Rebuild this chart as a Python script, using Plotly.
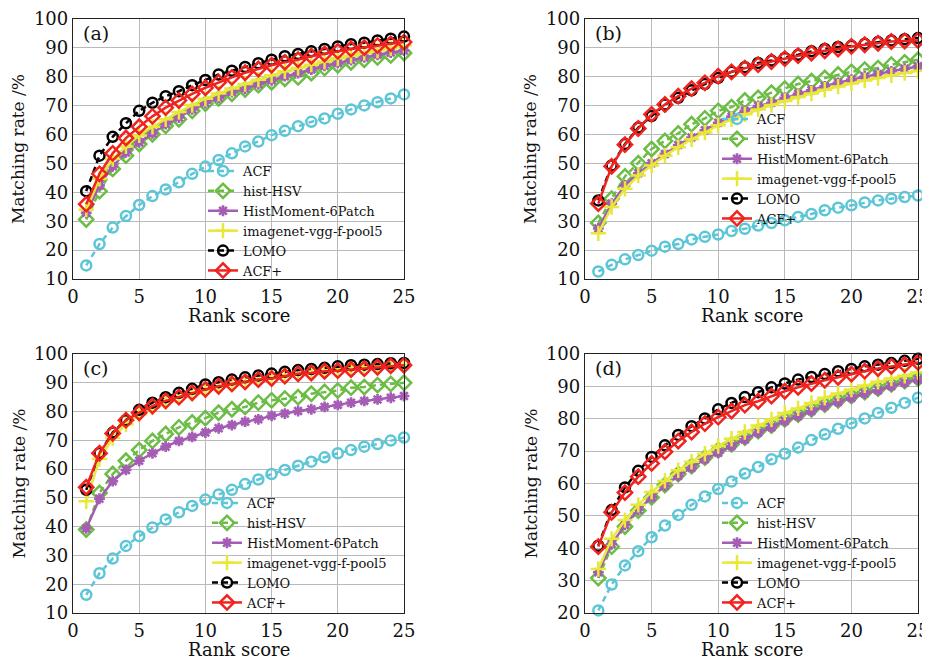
import plotly.graph_objects as go

rank = list(range(1, 26))
series_names = ["ACF", "hist-HSV", "HistMoment-6Patch", "imagenet-vgg-f-pool5", "LOMO", "ACF+"]

# ---- panel (a)
a_acf = [14.7, 22.1, 27.8, 31.8, 35.6, 38.7, 41.0, 43.5, 46.4, 48.9, 51.2, 53.5, 55.9, 57.6, 59.8,
         61.3, 62.9, 64.4, 65.6, 67.2, 68.7, 70.1, 71.2, 72.5, 73.9]
a_hsv = [30.6, 40.4, 48.1, 52.7, 56.7, 60.1, 63.0, 65.3, 68.2, 70.7, 72.5, 74.1, 75.6, 77.1, 78.1,
         79.3, 79.8, 81.3, 83.0, 84.0, 85.0, 85.9, 86.7, 87.4, 88.2]
a_hm = [32.9, 42.4, 49.0, 53.8, 57.3, 60.4, 63.6, 65.9, 68.7, 71.0, 72.7, 74.7, 75.9, 77.5, 78.8,
        80.2, 81.3, 82.5, 83.8, 84.8, 85.8, 86.7, 87.6, 88.4, 89.1]
a_vgg = [34.0, 44.7, 51.5, 55.9, 59.7, 62.7, 65.3, 67.8, 70.2, 72.4, 74.2, 75.9, 77.5, 79.0, 80.5,
         81.9, 83.0, 84.2, 85.3, 86.4, 87.3, 88.2, 89.1, 89.9, 90.8]
a_lomo = [40.4, 52.7, 59.2, 63.9, 68.2, 71.0, 73.3, 75.0, 77.1, 78.9, 80.8, 82.1, 83.4, 84.7, 85.9,
          87.1, 87.9, 88.8, 89.6, 90.5, 91.3, 91.8, 92.6, 93.2, 93.9]
a_acfp = [35.9, 46.4, 53.5, 58.8, 62.7, 66.3, 69.3, 71.8, 74.1, 76.2, 78.1, 79.8, 81.4, 82.7, 84.0,
          85.0, 85.9, 87.1, 87.9, 88.8, 89.6, 90.1, 90.8, 91.4, 92.0]

# ---- panel (b)
b_acf = [12.6, 14.9, 16.8, 18.3, 19.8, 21.2, 22.1, 23.7, 24.6, 25.4, 26.6, 27.4, 28.5, 29.4, 30.3,
         31.5, 32.5, 33.8, 34.7, 35.5, 36.5, 37.2, 37.8, 38.4, 38.9]
b_hsv = [29.4, 37.8, 45.5, 50.1, 55.0, 57.8, 60.4, 63.6, 65.6, 68.2, 69.5, 71.8, 72.7, 74.5, 75.9,
         77.5, 78.5, 79.6, 80.8, 81.7, 82.5, 83.0, 84.2, 85.0, 85.9]
b_hm = [27.5, 36.1, 42.4, 46.6, 50.1, 53.3, 56.4, 59.0, 61.5, 64.1, 66.2, 68.2, 69.9, 71.0, 72.7,
        74.1, 75.3, 76.7, 77.9, 79.0, 80.1, 81.0, 81.9, 82.8, 83.6]
b_vgg = [25.8, 34.9, 41.2, 45.8, 49.3, 52.7, 55.6, 58.4, 60.7, 63.2, 65.3, 67.0, 68.7, 70.2, 71.6,
         73.0, 74.2, 75.5, 76.6, 77.7, 78.7, 79.6, 80.5, 81.3, 82.1]
b_lomo = [37.2, 49.3, 56.7, 62.4, 66.4, 70.4, 72.7, 75.3, 77.5, 79.6, 81.7, 83.3, 84.8, 85.6, 86.5,
          87.6, 88.8, 89.6, 90.3, 90.7, 91.4, 92.0, 92.6, 93.0, 93.4]
b_acfp = [36.1, 49.0, 56.5, 62.1, 67.0, 70.4, 73.3, 75.9, 77.9, 80.2, 81.7, 83.0, 84.2, 85.3, 86.3,
          87.3, 88.2, 89.0, 89.6, 90.5, 91.1, 91.6, 92.2, 92.4, 92.6]

# ---- panel (c)
c_acf = [16.3, 23.8, 28.9, 33.3, 36.7, 39.7, 42.5, 45.0, 47.2, 49.4, 51.2, 52.8, 54.8, 56.4, 58.3,
         59.7, 61.2, 62.6, 64.1, 65.5, 66.6, 67.8, 68.7, 69.9, 71.0]
c_hsv = [39.0, 51.7, 58.3, 62.9, 66.6, 69.8, 72.2, 74.5, 76.2, 77.7, 79.6, 80.8, 81.6, 83.1, 83.9,
         84.5, 85.0, 86.2, 86.8, 87.3, 88.3, 88.5, 89.2, 89.6, 90.0]
c_hm = [39.4, 49.7, 55.8, 59.7, 62.9, 65.5, 67.8, 69.8, 71.2, 72.7, 74.2, 75.3, 76.5, 77.3, 78.5,
        79.3, 80.2, 80.8, 81.6, 82.3, 83.1, 83.7, 84.2, 84.8, 85.4]
c_vgg = [48.8, 63.5, 70.8, 75.6, 79.1, 81.4, 83.4, 85.0, 86.2, 87.5, 88.6, 89.4, 90.3, 91.1, 91.7,
         92.5, 93.1, 93.7, 94.2, 94.6, 95.2, 95.5, 95.9, 96.1, 96.3]
c_lomo = [52.8, 65.6, 72.7, 77.0, 80.6, 83.1, 85.0, 86.5, 87.9, 89.4, 90.2, 91.1, 91.9, 92.5, 93.2,
          93.8, 94.4, 94.8, 95.2, 95.7, 96.1, 96.3, 96.5, 96.8, 96.9]
c_acfp = [53.7, 65.5, 72.4, 77.0, 79.6, 81.9, 83.7, 85.0, 86.5, 87.7, 88.8, 89.6, 90.3, 91.1, 91.5,
          92.3, 93.1, 93.4, 94.0, 94.2, 94.6, 94.9, 95.4, 95.9, 96.1]

# ---- panel (d)
d_acf = [20.8, 28.8, 34.7, 39.1, 43.4, 47.0, 50.3, 53.4, 56.0, 58.3, 60.6, 63.1, 65.1, 67.5, 69.2,
         71.1, 73.4, 75.2, 76.9, 78.6, 80.1, 81.8, 83.4, 84.9, 86.5]
d_hsv = [30.8, 40.5, 46.7, 51.6, 55.7, 59.5, 62.9, 65.4, 68.0, 70.3, 72.1, 74.2, 76.2, 77.9, 79.8,
         81.3, 82.9, 84.4, 85.7, 87.0, 88.2, 89.3, 90.6, 91.6, 92.4]
d_hm = [32.6, 41.3, 47.2, 51.9, 55.7, 59.3, 62.4, 64.9, 67.5, 69.5, 71.6, 73.6, 75.7, 77.4, 79.3,
        80.8, 82.4, 83.9, 85.2, 86.5, 87.8, 88.8, 90.1, 91.1, 92.1]
d_vgg = [33.6, 42.9, 48.7, 53.4, 57.4, 60.8, 64.1, 66.7, 69.2, 71.6, 73.8, 75.9, 77.9, 79.8, 81.8,
         83.2, 84.9, 86.5, 87.8, 89.0, 90.3, 91.4, 92.4, 93.3, 94.4]
d_lomo = [40.8, 51.8, 58.8, 63.9, 68.2, 71.8, 75.0, 77.7, 80.1, 82.9, 84.9, 86.7, 88.2, 89.7, 90.9,
          92.1, 92.9, 93.8, 94.7, 95.4, 96.2, 96.7, 97.2, 97.9, 98.5]
d_acfp = [40.5, 51.1, 57.2, 62.1, 66.2, 69.8, 73.1, 75.9, 78.5, 80.5, 82.4, 84.2, 85.4, 87.0, 88.5,
          89.7, 90.9, 91.9, 92.8, 93.8, 94.7, 95.5, 96.2, 96.7, 97.4]

panel_labels = ["(a)", "(b)", "(c)", "(d)"]
panel_data = [
    [a_acf, a_hsv, a_hm, a_vgg, a_lomo, a_acfp],
    [b_acf, b_hsv, b_hm, b_vgg, b_lomo, b_acfp],
    [c_acf, c_hsv, c_hm, c_vgg, c_lomo, c_acfp],
    [d_acf, d_hsv, d_hm, d_vgg, d_lomo, d_acfp],
]
y_ranges = [[10, 100], [10, 100], [10, 100], [20, 100]]
x_title = "Rank score"
y_title = "Matching rate /%"

# ---- styles
OFF = 8                      # default page margin of the html body
W, H = 930 - OFF, 659 - OFF
FONT = "DejaVu Serif"
TXT = "#111111"
styles = [
    dict(color="#5cc6d6", dash="6px,4px", symbol="circle-open", size=10, mlw=2.5),
    dict(color="#6cbd45", dash="6px,4px", symbol="diamond-open", size=11, mlw=2.5),
    dict(color="#a45cb4", dash="solid", symbol="asterisk-open", size=9, mlw=2.6),
    dict(color="#e8e83a", dash="solid", symbol="cross-thin-open", size=11, mlw=2.5),
    dict(color="#000000", dash="6px,4px", symbol="circle-open", size=10, mlw=2.5),
    dict(color="#f0231e", dash="solid", symbol="diamond-open", size=11, mlw=2.5),
]

# pixel boxes (in window pixels) of the four plot areas: (left, right, top, bottom)
boxes = [(73, 404, 19, 279), (585, 918, 19, 279), (73, 404, 354, 613), (585, 918, 354, 613)]
# legend placement in window pixels: (text start, bottom)
legend_pos = [(243, 286), (757, 234), (247, 618), (757, 618)]

fig = go.Figure()
for p, vals in enumerate(panel_data):
    sfx = "" if p == 0 else str(p + 1)
    for name, y, st in zip(series_names, vals, styles):
        fig.add_trace(go.Scatter(
            x=rank, y=y, name=name, mode="lines+markers",
            xaxis="x" + sfx, yaxis="y" + sfx, legend="legend" + sfx,
            line=dict(color=st["color"], width=2.5, dash=st["dash"]),
            marker=dict(symbol=st["symbol"], size=st["size"], color=st["color"],
                        line=dict(color=st["color"], width=st["mlw"])),
            cliponaxis=False,
        ))


def px_x(v):
    return (v - OFF) / W


def px_y(v):
    return 1 - (v - OFF) / H


layout = dict(
    width=W, height=H, margin=dict(l=0, r=0, t=0, b=0, autoexpand=False),
    paper_bgcolor="white", plot_bgcolor="white",
    font=dict(family=FONT, size=17, color=TXT),
    showlegend=True,
)
annotations = []
for p, box in enumerate(boxes):
    L, R, T, B = box
    sfx = "" if p == 0 else str(p + 1)
    xd = [px_x(L), px_x(R)]
    yd = [px_y(B), px_y(T)]
    axcommon = dict(showline=True, linecolor="#222222", linewidth=1.3, mirror=True,
                    showgrid=True, gridcolor="#b9b9b9", gridwidth=1, zeroline=False,
                    ticks="", automargin=False, ticklabeloverflow="allow",
                    tickfont=dict(family=FONT, size=18, color=TXT))
    layout["xaxis" + sfx] = dict(domain=xd, range=[0, 25], dtick=5, tick0=0,
                                 anchor="y" + sfx, ticklabelstandoff=1, **axcommon)
    layout["yaxis" + sfx] = dict(domain=yd, range=y_ranges[p], dtick=10, tick0=0,
                                 anchor="x" + sfx, ticklabelstandoff=0, **axcommon)
    lx, lb = legend_pos[p]
    layout["legend" + sfx] = dict(
        x=px_x(lx - 40), xanchor="left", y=px_y(lb), yanchor="bottom",
        bgcolor="rgba(255,255,255,0)", borderwidth=0,
        font=dict(family=FONT, size=13, color=TXT),
        itemwidth=30, tracegroupgap=0,
    )
    annotations.append(dict(x=px_x(L + 8), y=px_y(T + 14), xref="paper", yref="paper",
                            text=panel_labels[p], showarrow=False, xanchor="left",
                            yanchor="middle", font=dict(family=FONT, size=19, color=TXT)))
    annotations.append(dict(x=px_x((L + R) / 2), y=px_y(B + 36), xref="paper", yref="paper",
                            text=x_title, showarrow=False, xanchor="center", yanchor="middle",
                            font=dict(family=FONT, size=18, color=TXT)))
    annotations.append(dict(x=px_x(L - 55), y=px_y((T + B) / 2), xref="paper", yref="paper",
                            text=y_title, showarrow=False, textangle=-90, xanchor="center",
                            yanchor="middle", font=dict(family=FONT, size=17, color=TXT)))
layout["annotations"] = annotations
fig.update_layout(**layout)
fig.write_html("out.html")
